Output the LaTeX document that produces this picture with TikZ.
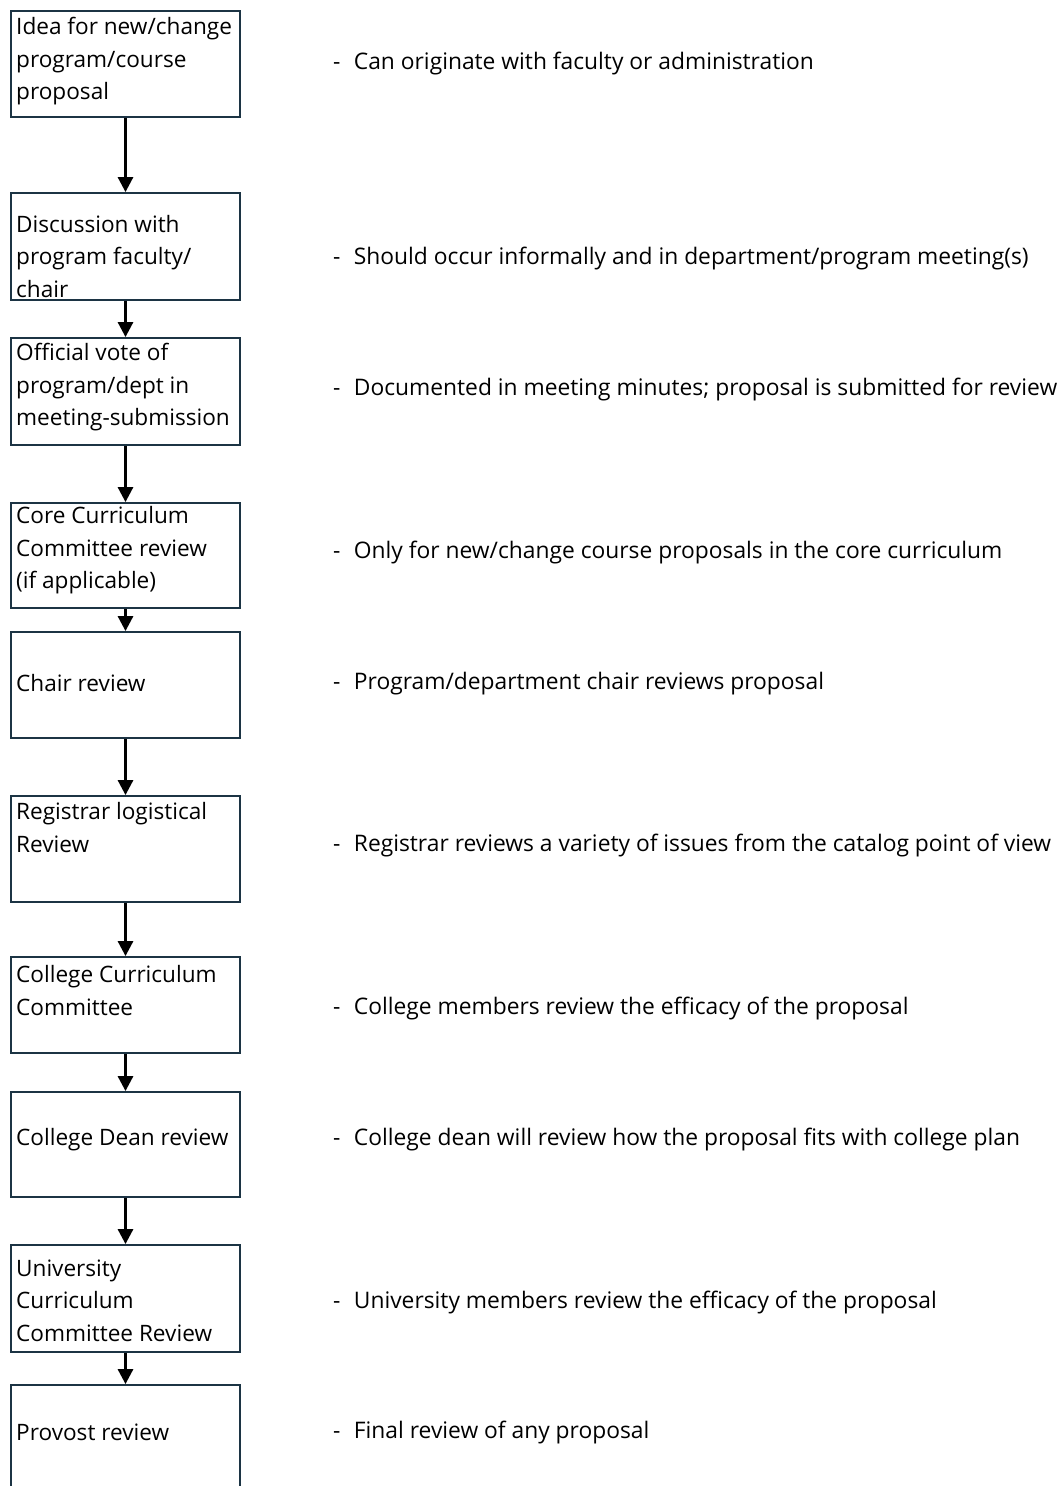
\documentclass[tikz,border=0pt]{standalone}
\usepackage{fontspec}
\setmainfont{Open Sans}
\usetikzlibrary{arrows.meta}
\definecolor{boxline}{RGB}{28,52,68}
\begin{document}
\begin{tikzpicture}[x=1pt,y=-1pt,
  box/.style={draw=boxline,line width=1.8pt,minimum width=229pt,inner sep=0pt,fill=none},
  btext/.style={anchor=west,inner sep=0pt,align=left,yshift=-0.5pt,font=\fontsize{22.6}{32.5}\selectfont},
  dtext/.style={anchor=west,inner sep=0pt,yshift=-2.5pt,font=\fontsize{22.8}{32.5}\selectfont},
  flow/.style={line width=2.8pt,-{Triangle[length=15pt,width=15pt]}}]
\useasboundingbox (0,0) rectangle (1060,1486);
\fill[white] (0,0) rectangle (1060,1486);
% boxes
\node[box,minimum height=106pt] (b1) at (125.5,64) {};
\node[box,minimum height=107pt] (b2) at (125.5,246.5) {};
\node[box,minimum height=107pt] (b3) at (125.5,391.5) {};
\node[box,minimum height=105pt] (b4) at (125.5,555.5) {};
\node[box,minimum height=106pt] (b5) at (125.5,685) {};
\node[box,minimum height=106pt] (b6) at (125.5,849) {};
\node[box,minimum height=96pt] (b7) at (125.5,1005) {};
\node[box,minimum height=105pt] (b8) at (125.5,1144.5) {};
\node[box,minimum height=107pt] (b9) at (125.5,1298.5) {};
\node[box,minimum height=106pt] (b10) at (125.5,1438) {};
% box texts
\node[btext] (t1) at (16,61) {Idea for new/change\\program/course\\proposal};
\node[btext] (t2) at (16,256) {Discussion with\\program faculty/\\chair};
\node[btext] (t3) at (16,387) {Official vote of\\program/dept in\\meeting-submission};
\node[btext] (t4) at (16,550) {Core Curriculum\\Committee review\\(if applicable)};
\node[btext,yshift=-2pt] (t5) at (16,681) {Chair review};
\node[btext] (t6) at (16,827) {Registrar logistical\\Review};
\node[btext] (t7) at (16,990) {College Curriculum\\Committee};
\node[btext,yshift=-2pt] (t8) at (16,1137) {College Dean review};
\node[btext] (t9) at (16,1300) {University\\Curriculum\\Committee Review};
\node[btext,yshift=-2pt] (t10) at (16,1430) {Provost review};
% descriptions
\node[dtext] (d1) at (333,61) {-\hspace{13.4pt}Can originate with faculty or administration};
\node[dtext] (d2) at (333,256) {-\hspace{13.4pt}Should occur informally and in department/program meeting(s)};
\node[dtext] (d3) at (333,387) {-\hspace{13.4pt}Documented in meeting minutes; proposal is submitted for review};
\node[dtext] (d4) at (333,550) {-\hspace{13.4pt}Only for new/change course proposals in the core curriculum};
\node[dtext] (d5) at (333,681) {-\hspace{13.4pt}Program/department chair reviews proposal};
\node[dtext] (d6) at (333,843) {-\hspace{13.4pt}Registrar reviews a variety of issues from the catalog point of view};
\node[dtext] (d7) at (333,1006) {-\hspace{13.4pt}College members review the efficacy of the proposal};
\node[dtext] (d8) at (333,1137) {-\hspace{13.4pt}College dean will review how the proposal fits with college plan};
\node[dtext] (d9) at (333,1300) {-\hspace{13.4pt}University members review the efficacy of the proposal};
\node[dtext] (d10) at (333,1430) {-\hspace{13.4pt}Final review of any proposal};
% arrows
\draw[flow] (b1) -- (b2);
\draw[flow] (b2) -- (b3);
\draw[flow] (b3) -- (b4);
\draw[flow] (b4) -- (b5);
\draw[flow] (b5) -- (b6);
\draw[flow] (b6) -- (b7);
\draw[flow] (b7) -- (b8);
\draw[flow] (b8) -- (b9);
\draw[flow] (b9) -- (b10);
\end{tikzpicture}
\end{document}
